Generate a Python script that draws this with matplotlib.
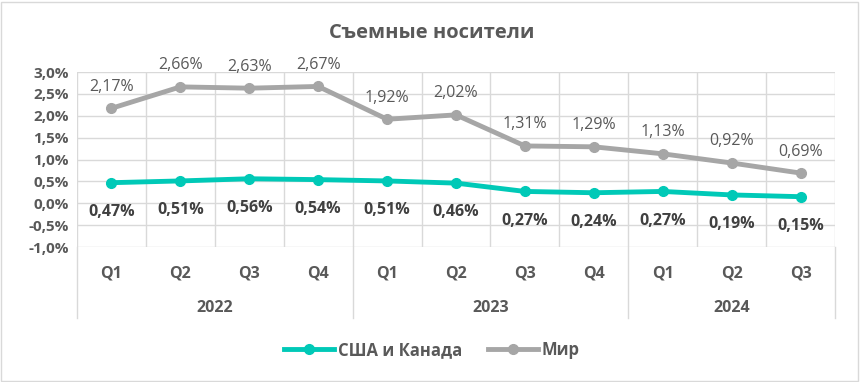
import matplotlib
matplotlib.use("Agg")
import matplotlib.pyplot as plt
from matplotlib.lines import Line2D

plt.rcParams['font.family'] = ['Open Sans', 'DejaVu Sans']

quarters = ["Q1", "Q2", "Q3", "Q4", "Q1", "Q2", "Q3", "Q4", "Q1", "Q2", "Q3"]
years = ["2022", "2023", "2024"]
year_sizes = [4, 4, 3]
usa = [0.47, 0.51, 0.56, 0.54, 0.51, 0.46, 0.27, 0.24, 0.27, 0.19, 0.15]
world = [2.17, 2.66, 2.63, 2.67, 1.92, 2.02, 1.31, 1.29, 1.13, 0.92, 0.69]
yticks = [-1.0, -0.5, 0.0, 0.5, 1.0, 1.5, 2.0, 2.5, 3.0]
series_names = ["США и Канада", "Мир"]

TEXT = "#595959"
GRID = "#D9D9D9"
TEAL = "#00C9B7"
GRAY = "#A6A6A6"

fig = plt.figure(figsize=(8.6, 3.82), dpi=100)
W, H = 860, 382
ax = fig.add_axes([77 / W, 1 - 247 / H, (835 - 77) / W, (247 - 72) / H])

n = len(quarters)
x = list(range(n))
ax.set_xlim(-0.5, n - 0.5)
ax.set_ylim(-1.0, 3.0)

for yv in yticks:
    ax.axhline(yv, color=GRID, lw=1, zorder=0)
for b in range(n + 1):
    ax.axvline(b - 0.5, color=GRID, lw=1, zorder=0)
for s in ax.spines.values():
    s.set_visible(False)

ax.plot(x, world, color=GRAY, lw=3.5, marker='o', ms=7, zorder=3, solid_capstyle='round')
ax.plot(x, usa, color=TEAL, lw=3.5, marker='o', ms=7, zorder=4, solid_capstyle='round')

for xi, v in zip(x, world):
    ax.annotate(f"{v:.2f}%".replace('.', ','), (xi, v), xytext=(0, 15.5), textcoords='offset points',
                ha='center', va='center', fontsize=11.5, color=TEXT)
for xi, v in zip(x, usa):
    ax.annotate(f"{v:.2f}%".replace('.', ','), (xi, v), xytext=(0, -21), textcoords='offset points',
                ha='center', va='center', fontsize=11.5, color="#404040", fontweight='bold')

ax.set_yticks(yticks)
ax.set_yticklabels([f"{v:.1f}%".replace('.', ',') for v in yticks], fontsize=11,
                   fontweight='bold', color=TEXT)
ax.tick_params(axis='y', length=0, pad=6)
ax.set_xticks(x)
ax.set_xticklabels(quarters, fontsize=11.5, fontweight='bold', color=TEXT)
ax.tick_params(axis='x', length=0, pad=13)

# year group labels and separators
trans = ax.get_xaxis_transform()
y_sep_bottom = -(318 - 247) / (247 - 72)
start = 0
bounds = [-0.5]
for yr, sz in zip(years, year_sizes):
    center = start + (sz - 1) / 2
    ax.text(center, -(308 - 247) / (247 - 72), yr, transform=trans, ha='center', va='center',
            fontsize=11.5, fontweight='bold', color=TEXT)
    start += sz
    bounds.append(start - 0.5)
for b in bounds:
    ax.plot([b, b], [0, y_sep_bottom], transform=trans, color=GRID, lw=1, clip_on=False, zorder=0)

fig.text(432 / W, 1 - 33 / H, "Съемные носители", ha='center', va='center',
         fontsize=14.5, fontweight='bold', color=TEXT)

handles = [Line2D([], [], color=TEAL, lw=3.5, marker='o', ms=7),
           Line2D([], [], color=GRAY, lw=3.5, marker='o', ms=7)]
fig.legend(handles, series_names, loc='center', bbox_to_anchor=(432 / W, 1 - 350 / H), ncol=2,
           frameon=False, handlelength=3.0, columnspacing=1.6, handletextpad=0.2,
           labelcolor=TEXT, prop={'weight': 'bold', 'size': 12})

fig.patches.append(plt.Rectangle((1 / W, 1 / H), 1 - 3 / W, 1 - 3 / H, transform=fig.transFigure,
                                 fill=False, edgecolor=GRID, lw=1))

fig.savefig("out.png", dpi=100, facecolor='white')
